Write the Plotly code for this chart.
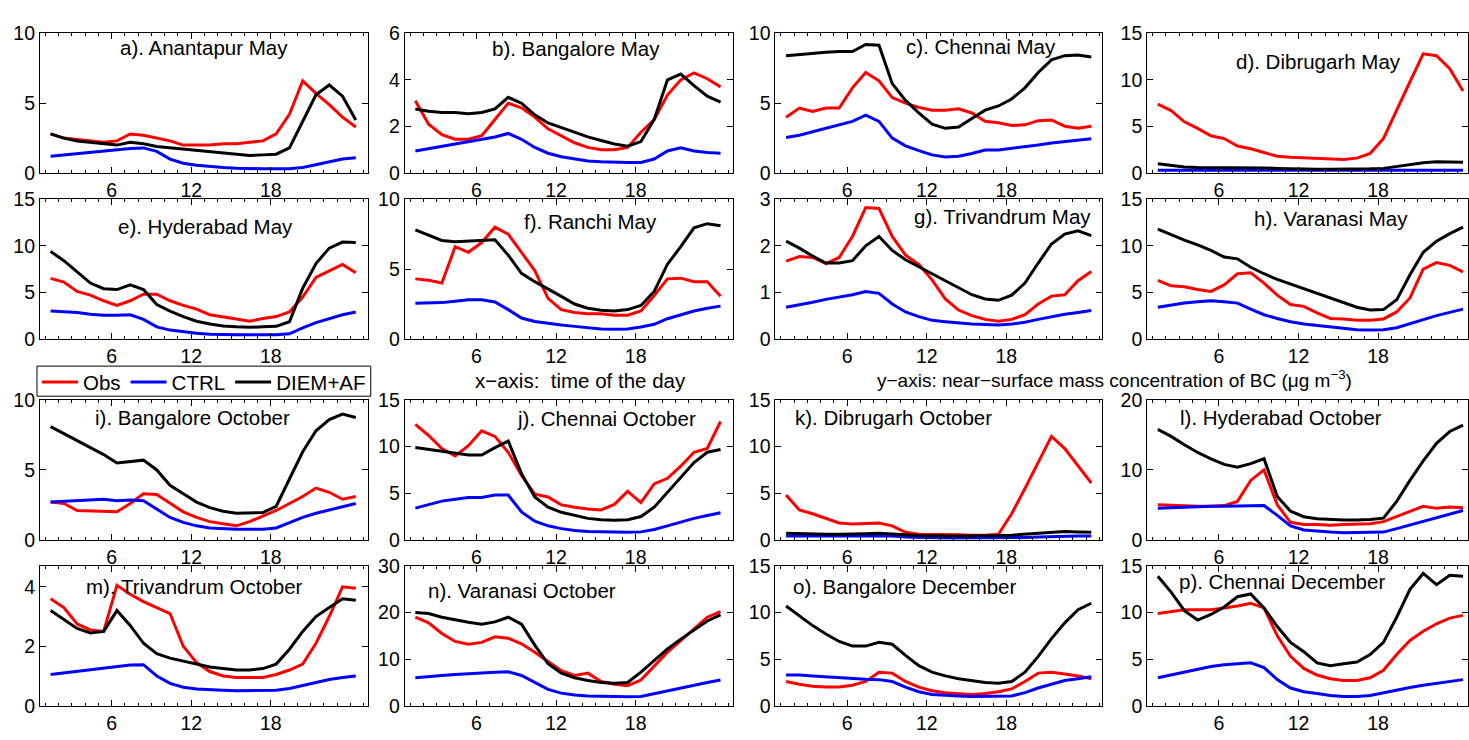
import plotly.graph_objects as go

# ---------------- data ----------------
hours = [1.4, 2.4, 3.4, 4.4, 5.4, 6.4, 7.4, 8.4, 9.4, 10.4, 11.4, 12.4,
         13.4, 14.4, 15.4, 16.4, 17.4, 18.4, 19.4, 20.4, 21.4, 22.4, 23.4, 24.4]
x_ticks = [6, 12, 18]

titles = ["a). Anantapur May", "b). Bangalore May", "c). Chennai May", "d). Dibrugarh May",
          "e). Hyderabad May", "f). Ranchi May", "g). Trivandrum May", "h). Varanasi May",
          "i). Bangalore October", "j). Chennai October", "k). Dibrugarh October", "l). Hyderabad October",
          "m). Trivandrum October", "n). Varanasi October", "o). Bangalore December", "p). Chennai December"]

y_max = [10, 6, 10, 15, 15, 10, 3, 15, 10, 15, 15, 20, 4.7, 30, 15, 15]
y_step = [5, 2, 5, 5, 5, 5, 1, 5, 5, 5, 5, 10, 2, 10, 5, 5]

obs_a = [2.8, 2.5, 2.4, 2.3, 2.2, 2.3, 2.8, 2.7, 2.5, 2.3, 2.0, 2.0, 2.0, 2.1, 2.1, 2.2, 2.3, 2.8, 4.2, 6.6, 5.7, 4.9, 4.0, 3.3]
ctrl_a = [1.2, 1.3, 1.4, 1.5, 1.55, 1.65, 1.75, 1.8, 1.55, 1.0, 0.7, 0.55, 0.45, 0.4, 0.35, 0.3, 0.3, 0.3, 0.3, 0.4, 0.6, 0.8, 1.0, 1.1]
diem_a = [2.8, 2.5, 2.3, 2.2, 2.1, 2.0, 2.2, 2.1, 1.9, 1.8, 1.7, 1.6, 1.5, 1.4, 1.3, 1.25, 1.3, 1.35, 1.8, 3.7, 5.6, 6.3, 5.5, 3.8]

obs_b = [3.1, 2.1, 1.65, 1.45, 1.45, 1.6, 2.3, 3.0, 2.8, 2.4, 1.9, 1.6, 1.3, 1.1, 1.0, 1.0, 1.1, 1.75, 2.3, 3.35, 4.0, 4.3, 4.05, 3.7]
ctrl_b = [0.95, 1.05, 1.15, 1.25, 1.35, 1.45, 1.55, 1.7, 1.45, 1.1, 0.85, 0.7, 0.6, 0.52, 0.48, 0.45, 0.45, 0.45, 0.6, 0.95, 1.08, 0.95, 0.88, 0.85]
diem_b = [2.75, 2.65, 2.6, 2.6, 2.55, 2.6, 2.75, 3.25, 3.0, 2.5, 2.15, 1.95, 1.75, 1.55, 1.4, 1.25, 1.15, 1.35, 2.3, 4.0, 4.25, 3.75, 3.3, 3.05]

obs_c = [4.0, 4.65, 4.4, 4.65, 4.65, 6.1, 7.2, 6.6, 5.4, 5.0, 4.7, 4.5, 4.5, 4.6, 4.3, 3.7, 3.6, 3.4, 3.45, 3.75, 3.8, 3.35, 3.2, 3.35]
ctrl_c = [2.55, 2.7, 2.95, 3.2, 3.45, 3.7, 4.15, 3.7, 2.5, 1.95, 1.6, 1.3, 1.15, 1.2, 1.4, 1.65, 1.65, 1.75, 1.85, 2.0, 2.15, 2.25, 2.35, 2.45]
diem_c = [8.4, 8.5, 8.6, 8.65, 8.7, 8.7, 9.2, 9.15, 6.4, 5.2, 4.3, 3.5, 3.2, 3.3, 3.9, 4.5, 4.8, 5.3, 6.1, 7.2, 8.1, 8.4, 8.45, 8.3]

obs_d = [7.4, 6.7, 5.5, 4.8, 4.0, 3.7, 2.9, 2.6, 2.2, 1.8, 1.7, 1.65, 1.6, 1.5, 1.45, 1.6, 2.1, 3.7, 6.8, 9.8, 12.8, 12.6, 11.2, 8.8]
ctrl_d = [0.3, 0.3, 0.3, 0.3, 0.3, 0.3, 0.3, 0.3, 0.28, 0.27, 0.25, 0.25, 0.25, 0.25, 0.25, 0.25, 0.25, 0.27, 0.3, 0.3, 0.3, 0.3, 0.3, 0.3]
diem_d = [1.0, 0.8, 0.65, 0.6, 0.6, 0.6, 0.6, 0.6, 0.55, 0.5, 0.45, 0.4, 0.4, 0.4, 0.4, 0.4, 0.45, 0.5, 0.7, 0.9, 1.1, 1.2, 1.2, 1.15]

obs_e = [6.5, 6.1, 5.1, 4.7, 4.1, 3.6, 4.1, 4.8, 4.8, 4.1, 3.6, 3.2, 2.6, 2.4, 2.15, 1.9, 2.2, 2.4, 2.9, 4.5, 6.6, 7.3, 8.0, 7.1]
ctrl_e = [3.0, 2.95, 2.85, 2.65, 2.55, 2.55, 2.6, 2.1, 1.3, 0.95, 0.75, 0.6, 0.5, 0.45, 0.45, 0.45, 0.45, 0.45, 0.55, 1.2, 1.75, 2.2, 2.6, 2.9]
diem_e = [9.4, 8.4, 7.2, 6.0, 5.4, 5.3, 5.8, 5.3, 3.7, 3.0, 2.4, 1.9, 1.6, 1.4, 1.3, 1.25, 1.3, 1.35, 1.85, 5.45, 8.1, 9.75, 10.4, 10.35]

obs_f = [4.3, 4.2, 4.0, 6.6, 6.2, 6.9, 8.0, 7.5, 6.2, 4.9, 2.9, 2.1, 1.9, 1.8, 1.8, 1.7, 1.7, 2.0, 3.1, 4.3, 4.35, 4.1, 4.1, 3.05]
ctrl_f = [2.55, 2.55, 2.6, 2.7, 2.8, 2.8, 2.65, 2.1, 1.5, 1.25, 1.1, 1.0, 0.9, 0.8, 0.72, 0.7, 0.72, 0.85, 1.05, 1.45, 1.75, 2.0, 2.2, 2.35]
diem_f = [7.8, 7.4, 7.05, 6.95, 7.0, 7.1, 7.1, 6.0, 4.7, 4.1, 3.6, 3.05, 2.5, 2.2, 2.05, 2.0, 2.1, 2.4, 3.4, 5.35, 6.6, 7.95, 8.25, 8.1]

obs_g = [1.67, 1.77, 1.75, 1.62, 1.75, 2.2, 2.82, 2.8, 2.2, 1.8, 1.6, 1.27, 0.86, 0.62, 0.5, 0.42, 0.38, 0.42, 0.52, 0.75, 0.92, 0.95, 1.25, 1.45]
ctrl_g = [0.68, 0.73, 0.79, 0.85, 0.9, 0.95, 1.02, 0.98, 0.75, 0.58, 0.48, 0.4, 0.37, 0.34, 0.32, 0.31, 0.3, 0.32, 0.36, 0.42, 0.48, 0.53, 0.57, 0.61]
diem_g = [2.1, 1.95, 1.78, 1.63, 1.63, 1.68, 2.0, 2.2, 1.9, 1.7, 1.55, 1.4, 1.25, 1.1, 0.95, 0.86, 0.83, 0.94, 1.2, 1.63, 2.04, 2.25, 2.32, 2.22]

obs_h = [6.3, 5.7, 5.6, 5.3, 5.1, 5.8, 7.0, 7.1, 6.0, 4.7, 3.7, 3.5, 2.8, 2.2, 2.15, 2.0, 2.0, 2.15, 2.9, 4.4, 7.5, 8.2, 7.9, 7.2]
ctrl_h = [3.4, 3.65, 3.85, 4.0, 4.1, 4.0, 3.85, 3.2, 2.6, 2.2, 1.85, 1.6, 1.45, 1.3, 1.15, 1.0, 0.95, 1.0, 1.2, 1.65, 2.05, 2.5, 2.85, 3.2]
diem_h = [11.8, 11.2, 10.6, 10.1, 9.5, 8.8, 8.6, 7.7, 7.0, 6.4, 5.9, 5.4, 4.9, 4.4, 3.9, 3.4, 3.1, 3.15, 4.2, 6.9, 9.3, 10.5, 11.3, 12.0]

obs_i = [2.7, 2.6, 2.1, 2.05, 2.0, 2.0, 2.6, 3.3, 3.25, 2.6, 2.0, 1.6, 1.3, 1.15, 1.0, 1.3, 1.7, 2.1, 2.6, 3.1, 3.7, 3.4, 2.9, 3.1]
ctrl_i = [2.7, 2.75, 2.8, 2.85, 2.9, 2.8, 2.85, 2.8, 2.2, 1.6, 1.25, 1.0, 0.85, 0.78, 0.75, 0.75, 0.75, 0.85, 1.25, 1.6, 1.9, 2.15, 2.4, 2.6]
diem_i = [8.1, 7.6, 7.1, 6.6, 6.1, 5.5, 5.6, 5.7, 5.0, 3.9, 3.3, 2.7, 2.3, 2.05, 1.9, 1.9, 1.95, 2.4, 4.3, 6.3, 7.8, 8.6, 9.0, 8.75]

obs_j = [12.4, 11.2, 9.8, 9.0, 10.1, 11.7, 11.1, 9.4, 6.9, 4.9, 4.6, 3.75, 3.5, 3.3, 3.2, 3.8, 5.2, 4.0, 6.0, 6.6, 7.9, 9.4, 9.8, 12.7]
ctrl_j = [3.4, 3.8, 4.15, 4.35, 4.55, 4.55, 4.8, 4.8, 3.0, 2.0, 1.5, 1.2, 1.0, 0.9, 0.85, 0.8, 0.8, 0.85, 1.1, 1.5, 1.9, 2.3, 2.6, 2.9]
diem_j = [9.9, 9.7, 9.5, 9.3, 9.1, 9.1, 9.9, 10.6, 7.1, 4.6, 3.5, 2.95, 2.6, 2.3, 2.15, 2.1, 2.15, 2.5, 3.5, 5.1, 6.8, 8.3, 9.4, 9.7]

obs_k = [4.8, 3.2, 2.8, 2.3, 1.8, 1.7, 1.75, 1.8, 1.5, 0.8, 0.6, 0.6, 0.6, 0.55, 0.5, 0.5, 0.6, 2.8, 5.5, 8.3, 11.1, 9.8, 8.0, 6.1]
ctrl_k = [0.4, 0.4, 0.4, 0.4, 0.4, 0.4, 0.42, 0.45, 0.4, 0.3, 0.25, 0.22, 0.2, 0.2, 0.2, 0.2, 0.2, 0.22, 0.25, 0.3, 0.35, 0.4, 0.4, 0.4]
diem_k = [0.7, 0.65, 0.6, 0.6, 0.6, 0.6, 0.65, 0.7, 0.65, 0.55, 0.45, 0.4, 0.4, 0.4, 0.4, 0.4, 0.45, 0.5, 0.6, 0.75, 0.85, 0.9, 0.85, 0.8]

obs_l = [5.0, 4.9, 4.9, 4.8, 4.8, 4.9, 5.5, 8.5, 10.0, 5.0, 2.5, 2.2, 2.2, 2.1, 2.2, 2.2, 2.3, 2.6, 3.3, 4.0, 4.8, 4.5, 4.7, 4.6]
ctrl_l = [4.5, 4.6, 4.7, 4.8, 4.8, 4.8, 4.8, 4.85, 4.9, 3.5, 2.0, 1.4, 1.2, 1.1, 1.0, 1.0, 1.0, 1.1, 1.6, 2.1, 2.7, 3.2, 3.7, 4.2]
diem_l = [15.8, 14.8, 13.6, 12.5, 11.6, 10.8, 10.4, 10.9, 11.6, 6.2, 4.1, 3.3, 3.0, 2.9, 2.85, 2.85, 2.9, 3.1, 5.5, 8.5, 11.3, 13.8, 15.5, 16.4]

obs_m = [3.6, 3.3, 2.75, 2.55, 2.5, 4.05, 3.75, 3.5, 3.3, 3.1, 2.0, 1.45, 1.15, 1.0, 0.95, 0.95, 0.95, 1.05, 1.2, 1.4, 2.1, 3.0, 4.0, 3.95]
ctrl_m = [1.05, 1.1, 1.15, 1.22, 1.27, 1.32, 1.37, 1.38, 1.0, 0.75, 0.62, 0.56, 0.53, 0.52, 0.5, 0.5, 0.5, 0.52, 0.58, 0.68, 0.78, 0.88, 0.95, 1.0]
diem_m = [3.2, 2.9, 2.6, 2.45, 2.5, 3.2, 2.7, 2.1, 1.75, 1.6, 1.5, 1.4, 1.3, 1.25, 1.2, 1.2, 1.25, 1.4, 1.9, 2.5, 3.0, 3.3, 3.6, 3.55]

obs_n = [19.0, 17.8, 15.5, 13.8, 13.2, 13.6, 14.8, 14.5, 13.3, 11.5, 9.5, 7.5, 6.5, 7.0, 5.2, 4.6, 4.3, 5.5, 8.5, 11.5, 14.0, 16.5, 19.0, 20.2]
ctrl_n = [6.0, 6.3, 6.5, 6.7, 6.9, 7.0, 7.2, 7.3, 6.5, 5.0, 3.5, 2.7, 2.3, 2.1, 2.0, 1.9, 1.9, 2.0, 2.6, 3.3, 3.9, 4.5, 5.0, 5.5]
diem_n = [20.0, 19.8, 19.0, 18.4, 17.9, 17.5, 18.0, 19.0, 17.5, 13.0, 9.0, 7.0, 6.0, 5.4, 5.0, 4.8, 5.0, 7.2, 9.8, 12.2, 14.3, 16.3, 18.2, 19.5]

obs_o = [2.6, 2.3, 2.1, 2.0, 2.0, 2.2, 2.6, 3.6, 3.5, 2.6, 2.0, 1.6, 1.4, 1.3, 1.2, 1.3, 1.5, 1.8, 2.6, 3.5, 3.6, 3.4, 3.2, 2.9]
ctrl_o = [3.3, 3.3, 3.2, 3.1, 3.0, 2.9, 2.85, 2.8, 2.6, 2.0, 1.5, 1.2, 1.1, 1.05, 1.0, 1.0, 1.0, 1.05, 1.4, 1.9, 2.3, 2.7, 2.9, 3.1]
diem_o = [10.7, 9.6, 8.6, 7.7, 6.9, 6.4, 6.4, 6.8, 6.6, 5.4, 4.3, 3.6, 3.2, 2.9, 2.7, 2.5, 2.4, 2.6, 3.6, 5.3, 7.2, 8.9, 10.3, 11.0]

obs_p = [9.9, 10.1, 10.3, 10.3, 10.3, 10.5, 10.7, 11.0, 10.5, 7.5, 5.3, 4.0, 3.3, 2.9, 2.7, 2.7, 3.0, 3.8, 5.5, 7.0, 8.0, 8.8, 9.4, 9.7]
ctrl_p = [3.0, 3.3, 3.6, 3.9, 4.2, 4.4, 4.5, 4.6, 4.1, 2.8, 1.9, 1.5, 1.3, 1.1, 1.0, 1.0, 1.1, 1.4, 1.7, 1.95, 2.2, 2.4, 2.6, 2.8]
diem_p = [13.9, 12.2, 10.2, 9.2, 9.8, 10.6, 11.7, 12.0, 10.5, 8.5, 6.8, 5.8, 4.6, 4.3, 4.5, 4.7, 5.5, 6.8, 9.5, 12.5, 14.2, 13.0, 14.0, 13.9]

obs_all = [obs_a, obs_b, obs_c, obs_d, obs_e, obs_f, obs_g, obs_h,
           obs_i, obs_j, obs_k, obs_l, obs_m, obs_n, obs_o, obs_p]
ctrl_all = [ctrl_a, ctrl_b, ctrl_c, ctrl_d, ctrl_e, ctrl_f, ctrl_g, ctrl_h,
            ctrl_i, ctrl_j, ctrl_k, ctrl_l, ctrl_m, ctrl_n, ctrl_o, ctrl_p]
diem_all = [diem_a, diem_b, diem_c, diem_d, diem_e, diem_f, diem_g, diem_h,
            diem_i, diem_j, diem_k, diem_l, diem_m, diem_n, diem_o, diem_p]

series_names = ["Obs", "CTRL", "DIEM+AF"]

# ---------------- layout geometry (pixels) ----------------
W, H = 1469, 740
col_px = [(40, 368), (405, 733), (776, 1103), (1148, 1469)]
row_px = [(23, 167), (194, 338), (401, 545), (572, 716)]
title_pos = [(204, 38), (576, 39), (982, 37), (1319, 52),
             (206, 222), (591, 217), (1003, 212), (1332, 214),
             (193, 419), (607, 420), (894, 419), (1282, 419),
             (195, 593), (522, 597), (906, 593), (1283, 588)]

FONT = "Liberation Sans, Arial, Helvetica, sans-serif"
colors = ["#ff0000", "#0000ff", "#000000"]

fig = go.Figure()
layout = dict(width=W, height=H, autosize=False,
              margin=dict(l=0, r=0, t=0, b=0),
              paper_bgcolor="white", plot_bgcolor="white",
              font=dict(family=FONT, size=19, color="black"),
              showlegend=True)
annotations = []

px_per_hr = (col_px[0][1] - col_px[0][0]) / 24.7
for k in range(16):
    r, c = divmod(k, 4)
    n = k + 1
    xs = "" if n == 1 else str(n)
    x0, x1 = col_px[c]
    yt, yb = row_px[r]
    xr = [0.6, 0.6 + (x1 - x0) / px_per_hr]
    layout["xaxis" + xs] = dict(
        domain=[x0 / W, x1 / W], range=xr, anchor="y" + xs,
        tickmode="array", tickvals=x_ticks, ticks="inside", ticklen=6,
        tickwidth=1, tickcolor="black", showline=True, linecolor="black",
        linewidth=1, mirror="allticks", showgrid=False, zeroline=False,
        tickfont=dict(size=19.5, family=FONT, color="black"),
        minor=dict(dtick=1, tick0=0, ticks="inside", ticklen=3, tickcolor="black", showgrid=False),
    )
    layout["yaxis" + xs] = dict(
        domain=[1 - yb / H, 1 - yt / H], range=[0, y_max[k]], anchor="x" + xs,
        tick0=0, dtick=y_step[k], ticks="inside", ticklen=6, tickwidth=1,
        tickcolor="black", showline=True, linecolor="black", linewidth=1,
        mirror="allticks", showgrid=False, zeroline=False,
        tickfont=dict(size=19.5, family=FONT, color="black"),
    )
    for s, vals in enumerate([obs_all[k], ctrl_all[k], diem_all[k]]):
        fig.add_trace(go.Scatter(
            x=hours, y=vals, mode="lines", name=series_names[s],
            line=dict(color=colors[s], width=3),
            xaxis="x" + xs, yaxis="y" + xs, showlegend=(k == 0),
            cliponaxis=True))
    tx, ty = title_pos[k]
    annotations.append(dict(text=titles[k], x=tx / W, y=1 - ty / H, xref="paper", yref="paper",
                            xanchor="center", yanchor="middle", showarrow=False,
                            font=dict(size=20.5, family=FONT, color="black")))

annotations.append(dict(text="x\u2212axis:\u00a0 time of the day", x=473 / W, y=1 - 381 / H,
                        xref="paper", yref="paper", xanchor="left", yanchor="middle",
                        showarrow=False, font=dict(size=20.5, family=FONT, color="black")))
annotations.append(dict(text="y\u2212axis: near\u2212surface mass concentration of BC (\u03bcg m<sup>\u22123</sup>)",
                        x=876 / W, y=1 - 379 / H, xref="paper", yref="paper",
                        xanchor="left", yanchor="middle", showarrow=False,
                        font=dict(size=19, family=FONT, color="black")))

layout["annotations"] = annotations
layout["legend"] = dict(orientation="h", x=37 / W, y=1 - 362 / H, xanchor="left", yanchor="top",
                        borderwidth=0, bgcolor="rgba(0,0,0,0)",
                        font=dict(size=20.5, family=FONT, color="black"),
                        itemwidth=36, tracegroupgap=0)
# legend frame
layout["shapes"] = [dict(type="rect", xref="paper", yref="paper",
                         x0=37 / W, x1=371 / W, y0=1 - 397 / H, y1=1 - 366 / H,
                         line=dict(color="black", width=1), fillcolor="white", layer="below")]
fig.update_layout(**layout)
fig.write_html("out.html", config={"displayModeBar": False},
               post_script="document.body.style.margin='0px';document.body.style.overflow='hidden';")
